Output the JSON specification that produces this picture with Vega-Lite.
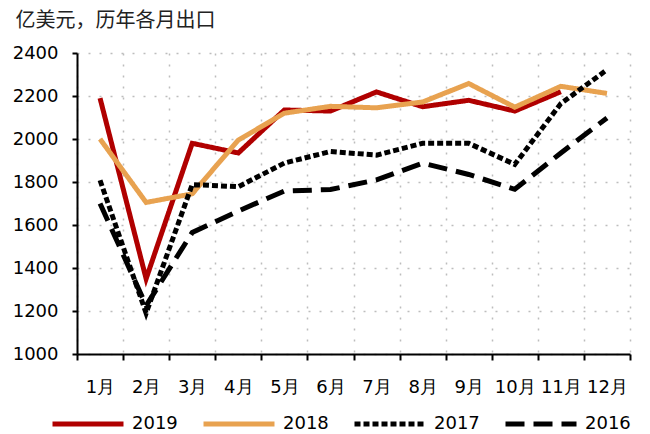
{
  "$schema": "https://vega.github.io/schema/vega-lite/v6.json",
  "width": 553,
  "height": 301,
  "autosize": "none",
  "padding": {"left": 77, "top": 53, "right": 20, "bottom": 80},
  "background": "white",
  "config": {
    "view": {"stroke": null},
    "axis": {
      "labelFont": "DejaVu Sans",
      "labelFontSize": 18,
      "labelColor": "#000000",
      "domainColor": "#000000",
      "domainWidth": 2,
      "tickColor": "#000000",
      "tickWidth": 2,
      "gridColor": "#BDBDBD",
      "gridDash": [2, 9],
      "gridWidth": 1.5
    },
    "legend": {
      "labelFont": "DejaVu Sans",
      "labelFontSize": 18,
      "labelColor": "#000000"
    }
  },
  "data": {
    "values": [
      {"month": "1月", "year": "2019", "value": 2190},
      {"month": "2月", "year": "2019", "value": 1350},
      {"month": "3月", "year": "2019", "value": 1980},
      {"month": "4月", "year": "2019", "value": 1935},
      {"month": "5月", "year": "2019", "value": 2135},
      {"month": "6月", "year": "2019", "value": 2130},
      {"month": "7月", "year": "2019", "value": 2219},
      {"month": "8月", "year": "2019", "value": 2150},
      {"month": "9月", "year": "2019", "value": 2180},
      {"month": "10月", "year": "2019", "value": 2130},
      {"month": "11月", "year": "2019", "value": 2220},
      {"month": "1月", "year": "2018", "value": 2000},
      {"month": "2月", "year": "2018", "value": 1705},
      {"month": "3月", "year": "2018", "value": 1745},
      {"month": "4月", "year": "2018", "value": 1995},
      {"month": "5月", "year": "2018", "value": 2120},
      {"month": "6月", "year": "2018", "value": 2152},
      {"month": "7月", "year": "2018", "value": 2145},
      {"month": "8月", "year": "2018", "value": 2172},
      {"month": "9月", "year": "2018", "value": 2258},
      {"month": "10月", "year": "2018", "value": 2148},
      {"month": "11月", "year": "2018", "value": 2245},
      {"month": "12月", "year": "2018", "value": 2212},
      {"month": "1月", "year": "2017", "value": 1808},
      {"month": "2月", "year": "2017", "value": 1190},
      {"month": "3月", "year": "2017", "value": 1788},
      {"month": "4月", "year": "2017", "value": 1778},
      {"month": "5月", "year": "2017", "value": 1888},
      {"month": "6月", "year": "2017", "value": 1942},
      {"month": "7月", "year": "2017", "value": 1925},
      {"month": "8月", "year": "2017", "value": 1980},
      {"month": "9月", "year": "2017", "value": 1980},
      {"month": "10月", "year": "2017", "value": 1882},
      {"month": "11月", "year": "2017", "value": 2165},
      {"month": "12月", "year": "2017", "value": 2322},
      {"month": "1月", "year": "2016", "value": 1700},
      {"month": "2月", "year": "2016", "value": 1225},
      {"month": "3月", "year": "2016", "value": 1565},
      {"month": "4月", "year": "2016", "value": 1665},
      {"month": "5月", "year": "2016", "value": 1758},
      {"month": "6月", "year": "2016", "value": 1765},
      {"month": "7月", "year": "2016", "value": 1810},
      {"month": "8月", "year": "2016", "value": 1888},
      {"month": "9月", "year": "2016", "value": 1835},
      {"month": "10月", "year": "2016", "value": 1766},
      {"month": "11月", "year": "2016", "value": 1935},
      {"month": "12月", "year": "2016", "value": 2098}
    ]
  },
  "mark": {"type": "line"},
  "encoding": {
    "x": {
      "field": "month",
      "type": "ordinal",
      "sort": ["1月","2月","3月","4月","5月","6月","7月","8月","9月","10月","11月","12月"],
      "scale": {"type": "band", "paddingInner": 0, "paddingOuter": 0},
      "bandPosition": 0.5,
      "axis": {
        "title": null,
        "labelAngle": 0,
        "tickBand": "extent",
        "tickSize": 6,
        "labelPadding": 18,
        "grid": true
      }
    },
    "y": {
      "field": "value",
      "type": "quantitative",
      "scale": {"domain": [1000, 2400], "nice": false, "zero": false},
      "axis": {
        "title": "亿美元，历年各月出口",
        "titleFont": "Noto Sans CJK SC",
        "titleFontSize": 20,
        "titleFontWeight": "normal",
        "titleColor": "#222222",
        "titleAngle": 0,
        "titleAlign": "left",
        "titleBaseline": "alphabetic",
        "titleX": -62,
        "titleY": -27,
        "format": "d",
        "values": [1000, 1200, 1400, 1600, 1800, 2000, 2200, 2400],
        "tickSize": 5,
        "labelPadding": 14,
        "grid": true
      }
    },
    "color": {
      "field": "year",
      "type": "nominal",
      "scale": {"domain": ["2019","2018","2017","2016"], "range": ["#B00000","#E8A250","#000000","#000000"]},
      "legend": {
        "title": null,
        "orient": "none",
        "direction": "horizontal",
        "legendX": -27,
        "legendY": 333,
        "symbolType": "stroke",
        "symbolSize": 5041,
        "labelOffset": 6,
        "columnPadding": 15
      }
    },
    "strokeDash": {
      "field": "year",
      "type": "nominal",
      "scale": {"domain": ["2019","2018","2017","2016"], "range": [[1,0],[1,0],[6,3],[19,9]]},
      "legend": {
        "title": null,
        "orient": "none",
        "direction": "horizontal",
        "legendX": -27,
        "legendY": 333,
        "symbolType": "stroke",
        "symbolSize": 5041,
        "labelOffset": 6,
        "columnPadding": 15
      }
    },
    "strokeWidth": {
      "field": "year",
      "type": "nominal",
      "scale": {"domain": ["2019","2018","2017","2016"], "range": [5,5,2,2]},
      "legend": {
        "title": null,
        "orient": "none",
        "direction": "horizontal",
        "legendX": -27,
        "legendY": 333,
        "symbolType": "stroke",
        "symbolSize": 5041,
        "labelOffset": 6,
        "columnPadding": 15
      }
    }
  }
}
